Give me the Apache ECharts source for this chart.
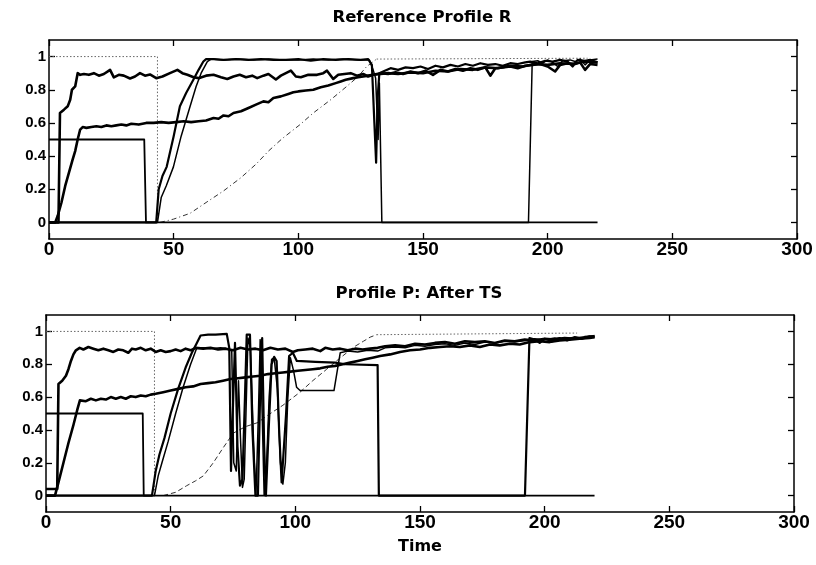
<!DOCTYPE html>
<html>
<head>
<meta charset="utf-8">
<script src="https://cdn.jsdelivr.net/npm/echarts@6/dist/echarts.min.js"></script>
<style>
  html, body { margin: 0; padding: 0; background: #fff; }
  #chart { width: 816px; height: 565px; }
</style>
</head>
<body>
<div id="chart"></div>
<script>
// ---- axis ticks ----
const xTicks = [0, 50, 100, 150, 200, 250, 300];
const yTicks = [0, 0.2, 0.4, 0.6, 0.8, 1];

// ---- Reference Profile R ----
const refSetpoint = [[0, 1], [43.5, 1], [43.5, 0]];
const refSetpointTail = [[131.4, 0.985], [216, 0.99]];
const refRamp = [[44.5, 0], [50, 0.02], [56.6, 0.055], [63, 0.12], [70, 0.19], [77, 0.27], [83.3, 0.355],
  [88, 0.43], [93.5, 0.505], [100.7, 0.59], [106, 0.66], [113, 0.74], [119.4, 0.82], [124, 0.88],
  [127.4, 0.94], [131.4, 0.985]];
const refBox = [[0, 0.5], [38.2, 0.5], [38.9, 0], [220, 0]];
const refA = [[0, 0], [3.8, 0], [4.4, 0.66], [6, 0.68], [7.5, 0.7], [8.5, 0.74], [9.2, 0.8], [10.5, 0.82],
  [11.5, 0.9], [12.5, 0.89], [14, 0.895], [16, 0.89], [18, 0.9], [20, 0.885], [22, 0.895], [24.5, 0.92],
  [26, 0.875], [28, 0.89], [30, 0.885], [32.5, 0.868], [34.5, 0.88], [36.5, 0.9], [38.5, 0.885],
  [40.5, 0.892], [43, 0.87], [45.5, 0.88], [48.5, 0.9], [51.5, 0.92], [53.5, 0.9], [55.5, 0.89],
  [58, 0.875], [60, 0.87], [63, 0.885], [66, 0.89], [69, 0.875], [71.5, 0.865], [74, 0.88], [76.5, 0.89],
  [79, 0.875], [81.5, 0.885], [83.5, 0.87], [86, 0.885], [88, 0.895], [91, 0.862], [93, 0.885],
  [95, 0.9], [97, 0.915], [99, 0.88], [101, 0.875], [104, 0.89], [107.5, 0.89], [110, 0.9],
  [111.5, 0.915], [114, 0.865], [116, 0.89], [118.5, 0.895], [121, 0.9], [123.5, 0.885], [126, 0.895],
  [128, 0.88], [130, 0.89], [133, 0.9], [136, 0.895], [139, 0.905], [142, 0.895], [145, 0.91],
  [148, 0.9], [151, 0.915], [154, 0.89], [157, 0.92], [160, 0.91], [163, 0.925], [166, 0.915],
  [169, 0.93], [172, 0.92], [175, 0.935], [177, 0.885], [179, 0.93], [182, 0.935], [185, 0.94],
  [188, 0.93], [191, 0.945], [194, 0.95], [197, 0.955], [200, 0.94], [203, 0.91], [205, 0.95],
  [208, 0.96], [211, 0.955], [213, 0.965], [215, 0.92], [217, 0.955], [220, 0.95]];
const refB = [[0, 0], [2.5, 0], [3.5, 0.04], [5, 0.12], [6.5, 0.22], [8, 0.3], [9.5, 0.38], [10.5, 0.43],
  [11.5, 0.5], [12.5, 0.56], [13.5, 0.575], [15, 0.57], [17, 0.575], [19, 0.58], [21, 0.575],
  [23, 0.585], [25, 0.58], [27, 0.585], [29, 0.59], [31, 0.585], [33, 0.595], [36, 0.59], [39, 0.6],
  [42, 0.6], [45, 0.605], [48, 0.6], [51, 0.605], [54, 0.61], [57, 0.605], [60, 0.61], [63, 0.615],
  [66, 0.63], [68, 0.625], [70, 0.645], [72, 0.64], [74, 0.66], [77, 0.67], [80, 0.69], [83, 0.71],
  [86, 0.73], [88, 0.725], [90, 0.75], [93, 0.76], [96, 0.775], [98, 0.785], [100, 0.79], [103, 0.795],
  [106, 0.8], [109, 0.815], [112, 0.825], [115, 0.84], [117, 0.85], [119, 0.86], [122, 0.87],
  [124, 0.875], [126, 0.88], [128, 0.885], [130, 0.89], [133, 0.895], [136, 0.9], [140, 0.895],
  [145, 0.905], [150, 0.9], [155, 0.915], [160, 0.91], [165, 0.925], [170, 0.92], [175, 0.935],
  [180, 0.93], [185, 0.945], [190, 0.94], [195, 0.955], [200, 0.95], [205, 0.96], [210, 0.955],
  [215, 0.97], [220, 0.965]];
const refC1 = [[0, 0], [43, 0], [44, 0.2], [45.5, 0.28], [47.2, 0.335], [50, 0.52], [52.5, 0.7], [55, 0.78],
  [57.9, 0.86], [60, 0.92], [61.9, 0.97], [63, 0.985], [66, 0.985], [70, 0.98], [75, 0.985], [80, 0.98],
  [85, 0.985], [90, 0.98], [95, 0.98], [100, 0.985], [105, 0.975], [110, 0.985], [115, 0.98],
  [120, 0.985], [125, 0.98], [128, 0.985], [129.5, 0.95], [130.5, 0.6], [131.2, 0.36], [131.8, 0.75],
  [132.5, 0.9], [134, 0.91], [137, 0.93], [140, 0.92], [143, 0.935], [146, 0.93], [149, 0.94],
  [152, 0.925], [155, 0.945], [158, 0.935], [161, 0.95], [164, 0.94], [167, 0.955], [170, 0.945],
  [173, 0.96], [176, 0.95], [179, 0.955], [182, 0.945], [185, 0.96], [188, 0.955], [191, 0.965],
  [193, 0.97], [196, 0.96], [199, 0.975], [202, 0.97], [205, 0.98], [208, 0.97], [210, 0.94],
  [212, 0.98], [215, 0.975], [217, 0.98], [220, 0.965]];
const refC2 = [[0, 0], [43.5, 0], [45, 0.15], [47, 0.22], [49.9, 0.335], [53, 0.52], [56.6, 0.7], [59, 0.82],
  [61, 0.9], [63.5, 0.97], [65, 0.985], [70, 0.98], [76, 0.985], [82, 0.98], [88, 0.985], [94, 0.98],
  [100, 0.98], [106, 0.985], [112, 0.98], [118, 0.985], [124, 0.98], [128.5, 0.98], [130, 0.92],
  [131, 0.87], [132, 0.5], [132.5, 0.84], [133.2, 0.84], [133.5, 0], [192.3, 0], [193.8, 0.97],
  [196, 0.975], [198, 0.96], [200, 0.98], [202, 0.965], [204, 0.94], [206, 0.975], [209, 0.98],
  [211, 0.97], [213, 0.985], [215, 0.95], [217, 0.98], [220, 0.985]];

// ---- Profile P: After TS ----
const tsSetpoint = [[0, 1], [43.5, 1], [43.5, 0]];
const tsSetpointTail = [[132.6, 0.98], [213, 0.99]];
const tsRamp = [[47, 0], [52, 0.02], [56.4, 0.06], [60, 0.09], [63.1, 0.12], [67.1, 0.2], [71, 0.29],
  [75.1, 0.38], [80, 0.42], [85, 0.445], [88.5, 0.485], [95, 0.55], [101.9, 0.63], [107, 0.7],
  [112.6, 0.77], [116.5, 0.82], [120.6, 0.87], [124, 0.91], [127.3, 0.94], [130, 0.965], [132.6, 0.98]];
const tsBox = [[0, 0.5], [38.8, 0.5], [39.2, 0], [220, 0]];
const tsA = [[0, 0.04], [4.5, 0.04], [5, 0.68], [6.5, 0.7], [8, 0.73], [9, 0.77], [10, 0.82], [11, 0.86],
  [12, 0.885], [13.5, 0.9], [15, 0.89], [17, 0.905], [19, 0.895], [21, 0.885], [23, 0.895], [25, 0.885],
  [27, 0.875], [29, 0.89], [31, 0.885], [33, 0.87], [34.5, 0.895], [36, 0.89], [38, 0.9], [40, 0.885],
  [42, 0.895], [44, 0.875], [46, 0.885], [48, 0.875], [50, 0.88], [52, 0.89], [54, 0.88], [56, 0.895],
  [58, 0.885], [60, 0.9], [63, 0.895], [66, 0.9], [69, 0.89], [72, 0.895], [75, 0.885], [78, 0.9],
  [81, 0.89], [84, 0.895], [87, 0.885], [90, 0.9], [93, 0.89], [96, 0.895], [99, 0.875], [101, 0.885],
  [104, 0.89], [107, 0.895], [110, 0.88], [112, 0.9], [115, 0.89], [118, 0.895], [121, 0.885],
  [124, 0.895], [127, 0.89], [130, 0.895], [133, 0.9], [136, 0.91], [140, 0.915], [144, 0.91],
  [148, 0.925], [152, 0.92], [156, 0.93], [160, 0.935], [164, 0.925], [168, 0.94], [172, 0.935],
  [176, 0.94], [180, 0.93], [184, 0.945], [188, 0.94], [192, 0.95], [196, 0.945], [200, 0.955],
  [204, 0.95], [208, 0.96], [212, 0.955], [216, 0.965], [220, 0.97]];
const tsB = [[0, 0], [3.6, 0], [5, 0.08], [7, 0.2], [9, 0.32], [11, 0.43], [12.5, 0.52], [13.6, 0.58],
  [16, 0.575], [18, 0.59], [20, 0.58], [22, 0.59], [24, 0.585], [26, 0.6], [28, 0.59], [30, 0.6],
  [32, 0.59], [34, 0.605], [36, 0.6], [38, 0.61], [40, 0.605], [42, 0.615], [44, 0.62], [47, 0.63],
  [50, 0.64], [53, 0.65], [56, 0.66], [59, 0.665], [62, 0.68], [65, 0.685], [68, 0.69], [71, 0.7],
  [74, 0.71], [77, 0.715], [80, 0.72], [83, 0.725], [86, 0.73], [89, 0.74], [92, 0.745], [95, 0.75],
  [98, 0.755], [101, 0.76], [104, 0.765], [107, 0.77], [110, 0.775], [113, 0.785], [116, 0.79],
  [119, 0.8], [122, 0.81], [125, 0.82], [128, 0.83], [131, 0.84], [134, 0.85], [138, 0.86], [142, 0.875],
  [146, 0.885], [150, 0.89], [154, 0.9], [158, 0.905], [162, 0.91], [166, 0.905], [170, 0.915],
  [174, 0.905], [178, 0.92], [182, 0.915], [186, 0.925], [190, 0.92], [194, 0.935], [198, 0.94],
  [202, 0.935], [206, 0.945], [210, 0.95], [214, 0.955], [218, 0.96], [220, 0.965]];
const tsC1 = [[0, 0], [42.5, 0], [44, 0.15], [45.5, 0.25], [47.5, 0.35], [50, 0.5], [53, 0.65], [56, 0.78],
  [58.5, 0.87], [60.5, 0.93], [62, 0.975], [65, 0.98], [68, 0.98], [72.5, 0.985], [73.5, 0.9],
  [74.2, 0.15], [75, 0.55], [75.8, 0.93], [76.8, 0.3], [77.8, 0.06], [78.8, 0.1], [79.8, 0.6],
  [80.5, 0.98], [81.8, 0.98], [82.8, 0.4], [84, 0], [85, 0], [86, 0.7], [86.7, 0.96], [87.5, 0.3],
  [88.2, 0], [89.3, 0.4], [90.5, 0.8], [91.5, 0.845], [92.5, 0.82], [93.5, 0.4], [94.5, 0.08],
  [95.3, 0.07], [96.3, 0.5], [97.5, 0.85], [99, 0.87], [100.6, 0.82], [108, 0.815], [116, 0.81],
  [120, 0.8], [133, 0.795], [133.5, 0], [192.1, 0], [193.9, 0.96], [196, 0.95], [198, 0.93],
  [200, 0.955], [203, 0.94], [206, 0.96], [209, 0.945], [212, 0.965], [215, 0.955], [218, 0.97],
  [220, 0.965]];
const tsC2 = [[0, 0], [43.5, 0], [45, 0.12], [46.5, 0.2], [49, 0.33], [52, 0.5], [55, 0.66], [58, 0.8],
  [60.5, 0.9], [63, 0.9], [66, 0.895], [70, 0.9], [73, 0.895], [74.5, 0.88], [75.3, 0.2], [76.3, 0.15],
  [77.2, 0.7], [78, 0.35], [78.8, 0.05], [79.5, 0.1], [80.2, 0.5], [81, 0.96], [82, 0.9], [83.3, 0.3],
  [84.2, 0], [85.2, 0.5], [85.9, 0.95], [86.7, 0.5], [87.5, 0], [88.5, 0.2], [89.5, 0.6], [90.5, 0.83],
  [91.5, 0.84], [92.8, 0.65], [94, 0.2], [95, 0.07], [96, 0.2], [97, 0.6], [98, 0.84], [99.3, 0.76],
  [100.5, 0.66], [101.9, 0.64], [115.5, 0.64], [118, 0.87], [121, 0.88], [125, 0.875], [129, 0.885],
  [133, 0.88], [136, 0.9], [140, 0.905], [144, 0.9], [148, 0.915], [152, 0.91], [156, 0.92],
  [160, 0.925], [164, 0.915], [168, 0.93], [172, 0.92], [176, 0.935], [180, 0.93], [184, 0.94],
  [188, 0.935], [192, 0.945], [196, 0.955], [200, 0.95], [204, 0.96], [208, 0.955], [212, 0.965],
  [216, 0.96], [220, 0.975]];

const chart = echarts.init(document.getElementById('chart'), null, { renderer: 'canvas' });

const INK = '#000';
const grids = [
  { left: 49, top: 40, width: 748, height: 199 },
  { left: 46, top: 315, width: 748, height: 197 }
];

function xAxes(gi, withName) {
  const base = {
    type: 'value', gridIndex: gi, min: 0, max: 300, interval: 50,
    axisLine: { show: true, onZero: false, lineStyle: { color: INK, width: 1.5 } },
    axisTick: { show: true, inside: true, length: 6, lineStyle: { color: INK, width: 1.3 } },
    splitLine: { show: false }
  };
  return [
    Object.assign({}, base, {
      position: 'bottom',
      axisLabel: { color: INK, fontFamily: 'Liberation Sans', fontWeight: 'bold', fontSize: 19, margin: 1 },
      name: withName ? 'Time' : '',
      nameLocation: 'middle', nameGap: 27,
      nameTextStyle: { color: INK, fontFamily: 'DejaVu Sans', fontWeight: 'bold', fontSize: 16 }
    }),
    Object.assign({}, base, { position: 'top', axisLabel: { show: false } })
  ];
}

function yAxes(gi) {
  const base = {
    type: 'value', gridIndex: gi, min: -0.1, max: 1.1,
    axisLine: { show: true, onZero: false, lineStyle: { color: INK, width: 1.5 } },
    axisTick: { show: true, inside: true, length: 6, customValues: yTicks, lineStyle: { color: INK, width: 1.3 } },
    splitLine: { show: false }
  };
  return [
    Object.assign({}, base, {
      position: 'left',
      axisLabel: {
        color: INK, fontFamily: 'Liberation Sans', fontWeight: 'bold', fontSize: 15, margin: 3,
        customValues: yTicks, formatter: v => String(+Number(v).toFixed(1))
      }
    }),
    Object.assign({}, base, { position: 'right', axisLabel: { show: false } })
  ];
}

function line(data, xi, yi, width, type, color) {
  return {
    type: 'line', data: data, xAxisIndex: xi, yAxisIndex: yi,
    showSymbol: false, symbol: 'none', animation: false, silent: true,
    lineStyle: { color: color || INK, width: width, type: type || 'solid', join: 'round' },
    z: 3
  };
}

function panelSeries(xi, yi, d) {
  return [
    line(d.setpoint, xi, yi, 1, [1.5, 2], '#666'),
    line(d.tail, xi, yi, 1, [1.5, 2], '#666'),
    line(d.ramp, xi, yi, 1, d.rampDash, '#333'),
    line(d.box, xi, yi, 1.8),
    line(d.c2, xi, yi, 1.5),
    line(d.c1, xi, yi, 2.2),
    line(d.b, xi, yi, 2.6),
    line(d.a, xi, yi, 2.6)
  ];
}

const option = {
  backgroundColor: '#fff',
  animation: false,
  grid: grids,
  xAxis: [].concat(xAxes(0, false), xAxes(1, true)),
  yAxis: [].concat(yAxes(0), yAxes(1)),
  graphic: [
    { type: 'text', x: 422, y: 18, style: { text: 'Reference Profile R', fill: INK,
      font: 'bold 16.5px "DejaVu Sans"', align: 'center', verticalAlign: 'middle' } },
    { type: 'text', x: 419, y: 294, style: { text: 'Profile P: After TS', fill: INK,
      font: 'bold 16.5px "DejaVu Sans"', align: 'center', verticalAlign: 'middle' } }
  ],
  series: [].concat(
    panelSeries(0, 0, { setpoint: refSetpoint, tail: refSetpointTail, ramp: refRamp, rampDash: [5, 3, 1, 3],
      box: refBox, a: refA, b: refB, c1: refC1, c2: refC2 }),
    panelSeries(2, 2, { setpoint: tsSetpoint, tail: tsSetpointTail, ramp: tsRamp, rampDash: [5, 3],
      box: tsBox, a: tsA, b: tsB, c1: tsC1, c2: tsC2 })
  )
};

chart.setOption(option);
</script>
</body>
</html>
